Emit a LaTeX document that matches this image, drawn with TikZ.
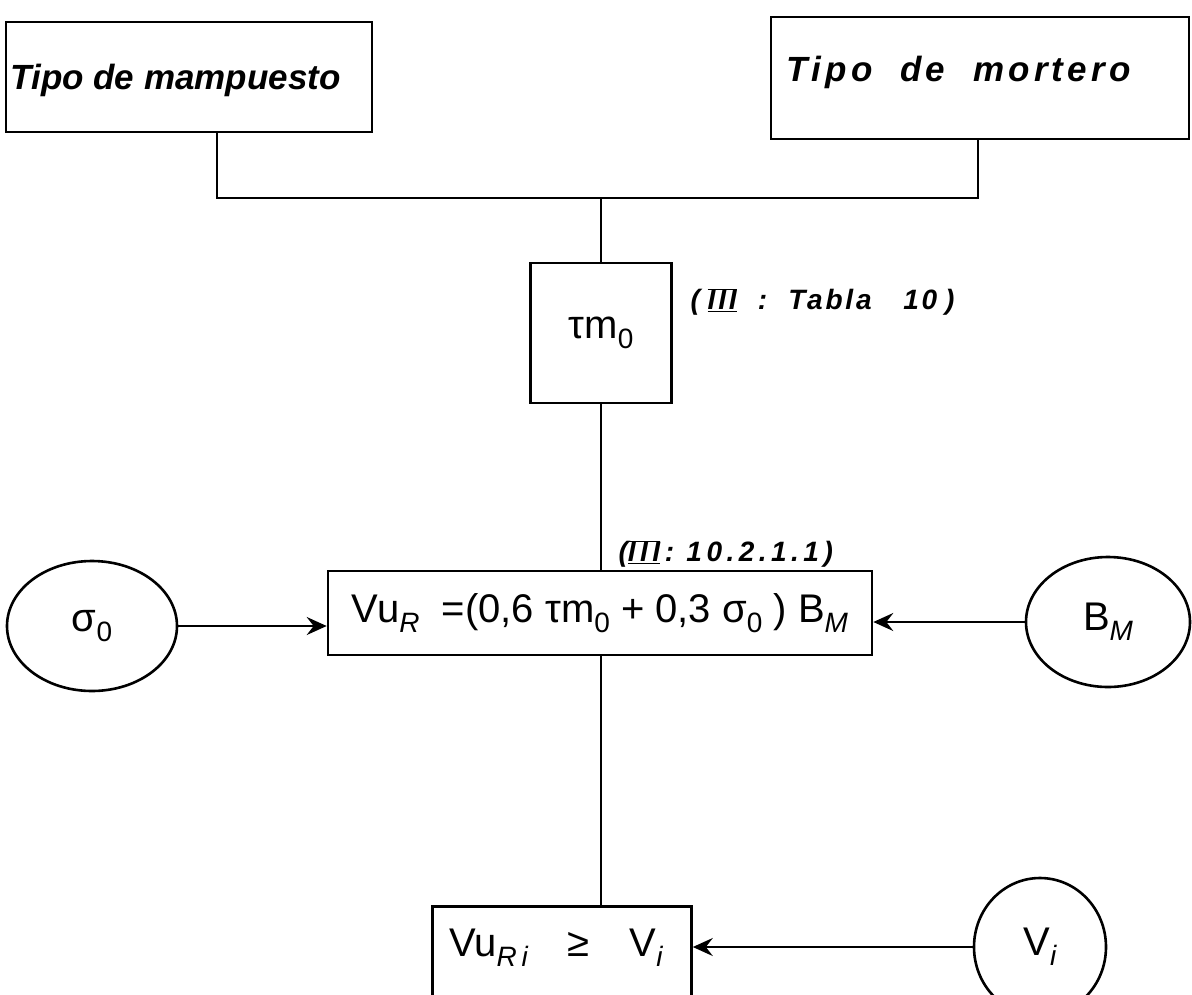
\documentclass[tikz,border=0pt]{standalone}
\usepackage{fontspec}
\setmainfont{Liberation Sans}
\usetikzlibrary{arrows.meta,shapes.geometric}
\newcommand{\lowsub}[1]{\raisebox{-0.25em}{\fontsize{28}{30}\selectfont #1}}
\newcommand{\romIII}{\ensuremath{\overline{\underline{\mbox{III}}}}}
\tikzset{
  boxnode/.style={draw, rectangle, inner sep=0pt},
  ovalnode/.style={draw, ellipse, inner sep=0pt},
  bigtxt/.style={font=\fontsize{35}{42}\selectfont\bfseries\itshape},
  widetxt/.style={font=\fontsize{35}{42}\selectfont\bfseries\itshape\addfontfeature{LetterSpace=12}},
  eqtxt/.style={font=\fontsize{40}{46}\selectfont},
  reftxt/.style={font=\fontsize{28}{32}\selectfont\bfseries\itshape\addfontfeature{LetterSpace=10}},
  reftxtb/.style={font=\fontsize{28}{32}\selectfont\bfseries\itshape\addfontfeature{LetterSpace=16}},
  conn/.style={line width=2.4pt},
  arr/.style={line width=2.4pt, -{Stealth[length=20pt,width=18pt,inset=7pt]}}
}
\begin{document}
\begin{tikzpicture}[x=1pt,y=-1pt,line width=2.6pt]
\useasboundingbox (0,0) rectangle (1192,994);
% top boxes
\node[boxnode, minimum width=366pt, minimum height=110pt] (b1) at (189,77) {};
\node[bigtxt, anchor=west] (t1) at (6,80) {Tipo de mampuesto};
\node[boxnode, minimum width=418pt, minimum height=122pt] (b2) at (980,78) {};
\node[widetxt, anchor=west] (t2) at (782,72) {Tipo\ \ de\ \ mortero};
\coordinate (j) at (601,198);
\coordinate (k1) at (217,0);
\coordinate (k2) at (978,0);
\draw[conn] (b1.south -| k1) |- (j) -| (b2.south -| k2);
% tau box
\node[boxnode, eqtxt, minimum width=141pt, minimum height=140pt] (tau) at (601,333) {τm\lowsub{0}};
\node[reftxt, anchor=west] (ref1) at (686,302) {(\;\romIII\ \ :\ \ Tabla\ \ \ 10\;)};
\draw[conn] (j) -- (tau.north);
% equation box
\node[boxnode, eqtxt, minimum width=544pt, minimum height=84pt] (eq) at (600,613)
  {Vu\lowsub{\itshape R}\ \ =(0,6 τm\lowsub{0} + 0,3 σ\lowsub{0} ) B\lowsub{\itshape M}};
\node[reftxtb, anchor=west] (ref2) at (614,554) {(\romIII\,:\ 10.2.1.1)};
\draw[conn] (tau.south) -- (eq.north -| tau.south);
% ellipses
\node[ovalnode, eqtxt, minimum width=170pt, minimum height=130pt] (s0) at (92,626) {σ\lowsub{0}};
\node[ovalnode, eqtxt, minimum width=164pt, minimum height=130pt] (bm) at (1108,622) {B\lowsub{\itshape M}};
\draw[arr] (s0.east) -- (s0.east -| eq.west);
\draw[arr] (bm.west) -- (bm.west -| eq.east);
% bottom
\node[boxnode, minimum width=259pt, minimum height=110pt, anchor=north] (bot) at (562,905) {};
\node[eqtxt] (bottxt) at (556,948) {Vu\lowsub{\itshape R\,i}\quad ≥\quad V\lowsub{\itshape i}};
\draw[conn] (eq.south -| tau.south) -- (bot.north -| tau.south);
\node[ovalnode, eqtxt, minimum width=132pt, minimum height=138pt] (vi) at (1040,947) {V\lowsub{\itshape i}};
\draw[arr] (vi.west) -- (vi.west -| bot.east);
\end{tikzpicture}
\end{document}
